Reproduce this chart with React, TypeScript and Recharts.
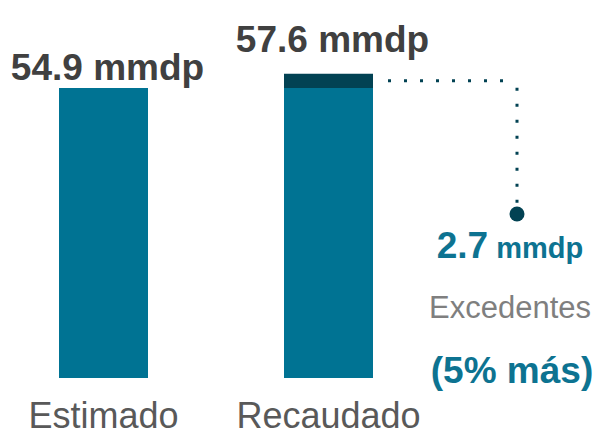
import React from 'react';
import { BarChart, Bar, XAxis, YAxis, LabelList, Customized } from 'recharts';

// ---- data ----
const categories = ['Estimado', 'Recaudado'];
const baseValues = [54.9, 54.9];
const excessValues = [0, 2.7];
const totalLabels = ['54.9 mmdp', '57.6 mmdp'];
const excessNumber = '2.7';
const excessUnit = 'mmdp';
const excessCaption = 'Excedentes';
const excessPercent = '(5% más)';
const yDomain: [number, number] = [0, 60];

const data = categories.map((name, i) => ({
  name,
  base: baseValues[i],
  excess: excessValues[i],
  label: totalLabels[i],
}));

// ---- layout ----
const W = 607;
const H = 438;
const M = { top: 61, right: 157, bottom: 0, left: 0 };
const XH = 60;
const PLOT_TOP = M.top;
const PLOT_BOTTOM = H - M.bottom - XH;
const PLOT_W = W - M.left - M.right;
const BAR = 89;
const FONT = '"Liberation Sans", Arial, sans-serif';
const TEAL = '#007393';
const DARK = '#024253';
const TEXT_TEAL = '#0d7391';

const yOf = (v: number) =>
  PLOT_TOP + (PLOT_BOTTOM - PLOT_TOP) * (1 - (v - yDomain[0]) / (yDomain[1] - yDomain[0]));
const band = PLOT_W / categories.length;
const xCenter = (i: number) => M.left + band * (i + 0.5);

const Tick = (props: any) => {
  const { x, payload } = props;
  return (
    <text x={x} y={PLOT_BOTTOM + 50} textAnchor="middle" fontFamily={FONT} fontSize={36} fill="#595959">
      {payload.value}
    </text>
  );
};

const TotalLabel = (props: any) => {
  const { x, width, value, index } = props;
  const top = yOf(baseValues[index] + excessValues[index]);
  const gap = index === 0 ? 8 : 22;
  return (
    <text
      x={Number(x) + Number(width) / 2 + 4}
      y={top - gap}
      textAnchor="middle"
      fontFamily={FONT}
      fontWeight="bold"
      fontSize={37}
      fill="#404040"
    >
      {value}
    </text>
  );
};

const Annotations = () => {
  const i = 1;
  const yMid = yOf(baseValues[i] + excessValues[i] / 2);
  const xStart = xCenter(i) + BAR / 2 + 15;
  const xTurn = 526;
  const yDot = 214;
  const cx = 519;
  return (
    <g>
      <line x1={xStart} y1={yMid} x2={xTurn - 6} y2={yMid} stroke={DARK} strokeWidth={3} strokeDasharray="3 13" />
      <line x1={xTurn} y1={yMid + 7} x2={xTurn} y2={yDot - 8} stroke={DARK} strokeWidth={3} strokeDasharray="3 13" />
      <circle cx={xTurn} cy={yDot} r={7.5} fill={DARK} />
      <text x={cx} y={258} textAnchor="middle" fontFamily={FONT} fontWeight="bold" fill={TEXT_TEAL}>
        <tspan fontSize={37}>{excessNumber}</tspan>
        <tspan fontSize={29}> {excessUnit}</tspan>
      </text>
      <text x={cx} y={318} textAnchor="middle" fontFamily={FONT} fontSize={31} fill="#7f7f7f">
        {excessCaption}
      </text>
      <text x={cx + 2} y={383} textAnchor="middle" fontFamily={FONT} fontWeight="bold" fontSize={37} fill={TEXT_TEAL}>
        {excessPercent}
      </text>
    </g>
  );
};

export default function App() {
  return (
    <div style={{ position: 'absolute', left: -9, top: 0, width: W, height: H, background: '#fff' }}>
      <BarChart width={W} height={H} data={data} margin={M} barSize={BAR}>
        <XAxis dataKey="name" height={XH} axisLine={false} tickLine={false} tick={<Tick />} interval={0} />
        <YAxis hide domain={yDomain} />
        <Bar dataKey="base" stackId="a" fill={TEAL} isAnimationActive={false}>
          <LabelList dataKey="label" content={<TotalLabel />} />
        </Bar>
        <Bar dataKey="excess" stackId="a" fill={DARK} isAnimationActive={false} />
        <Customized component={<Annotations />} />
      </BarChart>
    </div>
  );
}
